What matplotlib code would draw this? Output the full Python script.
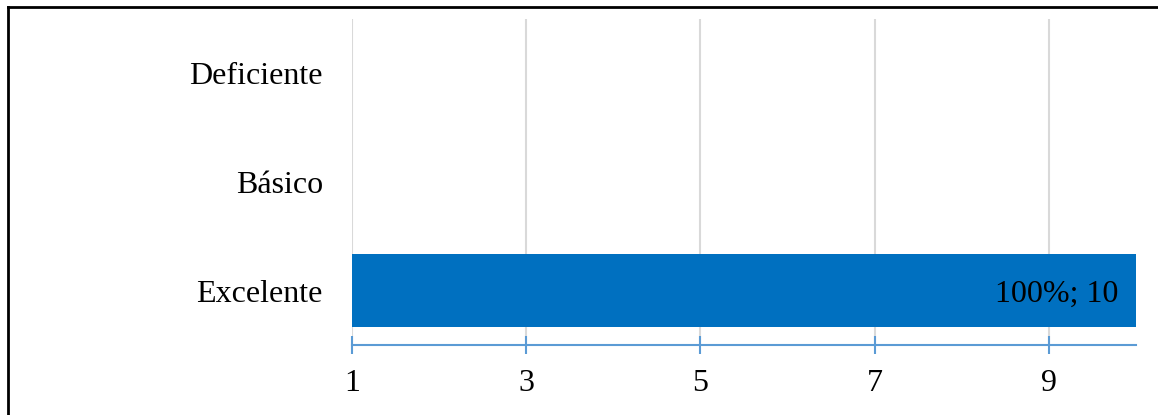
import matplotlib
matplotlib.use('Agg')
import matplotlib.pyplot as plt
from matplotlib.lines import Line2D

categorias = ['Excelente', 'Básico', 'Deficiente']
valores = [10, 0, 0]
porcentajes = [100, 0, 0]
ticks_x = [1, 3, 5, 7, 9]

plt.rcParams['font.family'] = ['Liberation Serif', 'DejaVu Serif']
plt.rcParams['font.size'] = 23

fig = plt.figure(figsize=(11.58, 4.15), dpi=100)
ax = fig.add_axes([352/1158, 70/415, (1136-352)/1158, (345-19)/415])

y = range(len(categorias))
ax.barh(y, valores, height=0.667, color='#0070C0', zorder=3)

# etiquetas de datos
for i, (v, p) in enumerate(zip(valores, porcentajes)):
    if v > 0:
        ax.annotate(f'{p}%; {v}', xy=(v, i), xytext=(-18, -4), textcoords='offset pixels',
                    ha='right', va='center', color='black', zorder=4)

ax.set_xlim(1, 10)
ax.set_ylim(-0.5, len(categorias) - 0.5)
ax.set_yticks(list(y))
ax.set_yticklabels(categorias)
ax.set_xticks(ticks_x)

ax.grid(axis='x', color='#D9D9D9', linewidth=1.5, zorder=0)
ax.grid(axis='y', visible=False)
for s in ['left', 'top', 'right']:
    ax.spines[s].set_visible(False)
ax.spines['bottom'].set_color('#5B9BD5')
ax.spines['bottom'].set_linewidth(1.5)
ax.tick_params(axis='y', length=0, pad=21)
ax.tick_params(axis='x', direction='inout', length=13, width=1.5, color='#5B9BD5', pad=11)

# borde de la figura
fig.add_artist(Line2D([8/1158, 1], [1 - 7/415, 1 - 7/415], color='black', linewidth=2))
fig.add_artist(Line2D([8/1158, 8/1158], [0, 1 - 7/415], color='black', linewidth=2))

fig.savefig('out.png', dpi=100)
plt.close()
